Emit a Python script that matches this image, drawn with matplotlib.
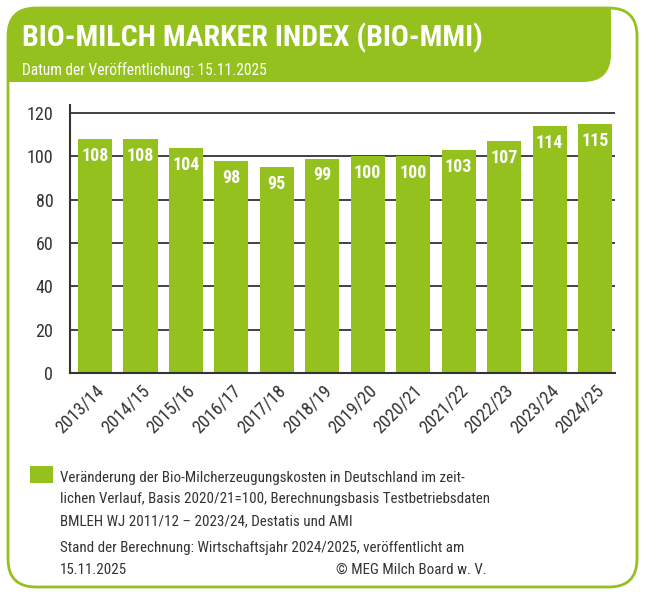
import matplotlib
matplotlib.use("Agg")
import matplotlib.pyplot as plt
from matplotlib import font_manager
from matplotlib.patches import FancyBboxPatch, Rectangle

# --- data ---
seasons = ["2013/14", "2014/15", "2015/16", "2016/17", "2017/18", "2018/19",
           "2019/20", "2020/21", "2021/22", "2022/23", "2023/24", "2024/25"]
index_vals = [108, 108, 104, 98, 95, 99, 100, 100, 103, 107, 114, 115]
yticks = [0, 20, 40, 60, 80, 100, 120]

title = "BIO-MILCH MARKER INDEX (BIO-MMI)"
subtitle = "Datum der Veröffentlichung: 15.11.2025"
legend_lines = ["Veränderung der Bio-Milcherzeugungskosten in Deutschland im zeit-",
                "lichen Verlauf, Basis 2020/21=100, Berechnungsbasis Testbetriebsdaten",
                "BMLEH WJ 2011/12 – 2023/24, Destatis und AMI"]
stand_lines = ["Stand der Berechnung: Wirtschaftsjahr 2024/2025, veröffentlicht am",
               "15.11.2025"]
copyright_txt = "© MEG Milch Board w. V."

GREEN = "#95c11f"
DARK = "#333333"

names = {f.name for f in font_manager.fontManager.ttflist}
FONT = next((n for n in ["Liberation Sans Narrow", "Roboto Condensed", "DejaVu Sans"]
             if n in names), "DejaVu Sans")
plt.rcParams["font.family"] = [FONT, "DejaVu Sans"]

W, H = 647, 600
fig = plt.figure(figsize=(W / 100, H / 100), dpi=100)
fig.patch.set_facecolor("white")

# background canvas in pixel coords
bg = fig.add_axes([0, 0, 1, 1], zorder=0)
bg.set_xlim(0, W); bg.set_ylim(H, 0); bg.axis("off")

# outer rounded border
bg.add_patch(FancyBboxPatch((8, 8), 629, 579, boxstyle="round,pad=0,rounding_size=28",
                            fc="white", ec=GREEN, lw=2))
# header: rounded top-left and bottom-right corners, square elsewhere
bg.add_patch(FancyBboxPatch((8, 8), 603, 74, boxstyle="round,pad=0,rounding_size=28",
                            fc=GREEN, ec="none"))
bg.add_patch(Rectangle((450, 8), 161, 30, fc=GREEN, ec="none"))
bg.add_patch(Rectangle((8, 50), 200, 32, fc=GREEN, ec="none"))

bg.text(22, 38, title, color="white", fontsize=21.5, fontweight="bold", va="center", ha="left")
bg.text(22, 70, subtitle, color="white", fontsize=11.2, va="center", ha="left")

# legend + notes
bg.add_patch(Rectangle((30, 466), 23, 17, fc=GREEN, ec="none"))
for i, ln in enumerate(legend_lines):
    bg.text(60, 478 + i * 21.5, ln, color=DARK, fontsize=10.8, va="center", ha="left")
for i, ln in enumerate(stand_lines):
    bg.text(60, 548 + i * 22, ln, color=DARK, fontsize=10.8, va="center", ha="left")
bg.text(487, 570, copyright_txt, color=DARK, fontsize=10.8, va="center", ha="right")

# --- bar chart ---
ax = fig.add_axes([70 / W, 1 - 373 / H, (615 - 70) / W, (373 - 105) / H], zorder=1)
ax.patch.set_alpha(0)
x = range(len(seasons))
bars = ax.bar(x, index_vals, width=0.75, color=GREEN, zorder=2)
for b, v in zip(bars, index_vals):
    ax.text(b.get_x() + b.get_width() / 2, v - 7.8, str(v), color="white",
            fontsize=13, fontweight="bold", ha="center", va="center", zorder=3)

ax.set_xlim(-0.55, 11.44)
ax.set_ylim(0, 123.7)
ax.set_yticks(yticks)
ax.set_yticklabels([str(t) for t in yticks], fontsize=13, color=DARK)
for t in yticks[1:]:
    ax.axhline(t, color=DARK, lw=1.3, zorder=1)
ax.set_xticks(list(x))
ax.set_xticklabels(seasons, rotation=45, ha="right", rotation_mode="anchor",
                   fontsize=13, color=DARK)
ax.tick_params(axis="both", length=0)
ax.tick_params(axis="y", pad=12)
ax.tick_params(axis="x", pad=6)
for s in ["top", "right"]:
    ax.spines[s].set_visible(False)
for s in ["left", "bottom"]:
    ax.spines[s].set_color(DARK)
    ax.spines[s].set_linewidth(1.5)

fig.savefig("out.png", dpi=100)
